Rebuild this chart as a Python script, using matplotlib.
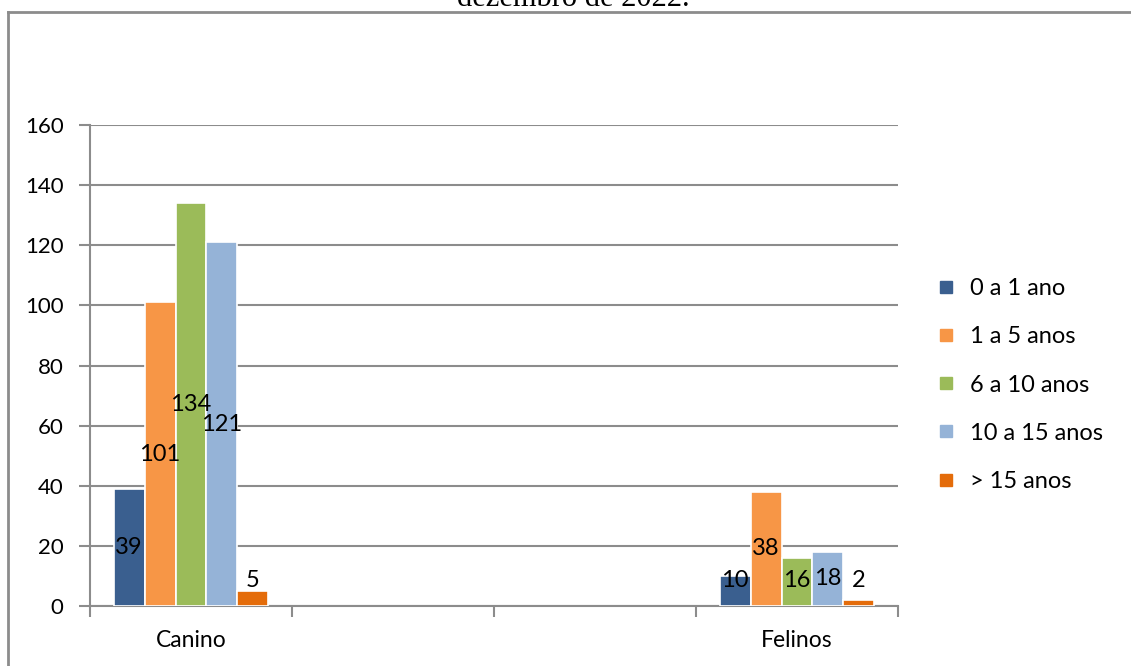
import numpy as np
import matplotlib
matplotlib.use("Agg")
import matplotlib.pyplot as plt
from matplotlib.lines import Line2D

plt.rcParams['font.family'] = ['Lato', 'DejaVu Sans']

# data
categories = ["Canino", "", "", "Felinos"]
series = ["0 a 1 ano", "1 a 5 anos", "6 a 10 anos", "10 a 15 anos", "> 15 anos"]
values = {
    "0 a 1 ano": [39, None, None, 10],
    "1 a 5 anos": [101, None, None, 38],
    "6 a 10 anos": [134, None, None, 16],
    "10 a 15 anos": [121, None, None, 18],
    "> 15 anos": [5, None, None, 2],
}
colors = ["#3A5F8F", "#F79646", "#9BBB59", "#95B3D7", "#E46C0A"]
title_tail = "dezembro de 2022."

fig = plt.figure(figsize=(11.31, 6.66), dpi=100)
ax = fig.add_axes([90 / 1131, 1 - 606 / 666, 808 / 1131, 481 / 666])

x = np.arange(len(categories))
bw = 0.153
grid_c = "#8C8C8C"

for i, s in enumerate(series):
    xs = x + (i - 2) * bw
    for xi, v in zip(xs, values[s]):
        if v is None:
            continue
        ax.bar(xi, v, width=bw, color=colors[i], edgecolor="white", linewidth=1.2, zorder=3)
        ax.text(xi, max(v / 2, 8.5), str(v), ha="center", va="center",
                fontsize=17, color="black", zorder=4)

ax.set_xlim(-0.5, len(categories) - 0.5)
ax.set_ylim(0, 160)
ax.set_yticks(np.arange(0, 161, 20))
ax.yaxis.grid(True, color=grid_c, linewidth=1.5, zorder=0)
ax.set_axisbelow(True)

ax.set_xticks(x)
ax.set_xticklabels(categories, fontsize=16.5)
ax.set_xticks(np.arange(-0.5, len(categories), 1.0), minor=True)
ax.tick_params(axis="x", which="major", length=0, pad=17)
ax.tick_params(axis="x", which="minor", length=8, width=1.5, color=grid_c, direction="out")
ax.tick_params(axis="y", length=8, width=1.5, color=grid_c, labelsize=16, pad=11)

for side in ["top", "right"]:
    ax.spines[side].set_visible(False)
for side in ["left", "bottom"]:
    ax.spines[side].set_color(grid_c)
    ax.spines[side].set_linewidth(1.5)

handles = [Line2D([0], [0], marker="s", linestyle="", markersize=8,
                  markerfacecolor=c, markeredgecolor=c) for c in colors]
fig.legend(handles, series, loc="center left", bbox_to_anchor=(913 / 1131, 1 - 385 / 666),
           frameon=False, fontsize=17, labelspacing=1.15, handletextpad=0.5,
           handlelength=1.0)

# outer frame and clipped title
fig.add_artist(Line2D([8 / 1131, 1.0], [1 - 12 / 666, 1 - 12 / 666], color="#8C8C8C",
                      linewidth=2, transform=fig.transFigure))
fig.add_artist(Line2D([8 / 1131, 8 / 1131], [0, 1 - 12 / 666], color="#8C8C8C",
                      linewidth=2, transform=fig.transFigure))
fig.text(573 / 1131, 1 - 6 / 666, title_tail, ha="center", va="baseline",
         fontsize=22, family="Liberation Serif")

fig.savefig("out.png", dpi=100)
